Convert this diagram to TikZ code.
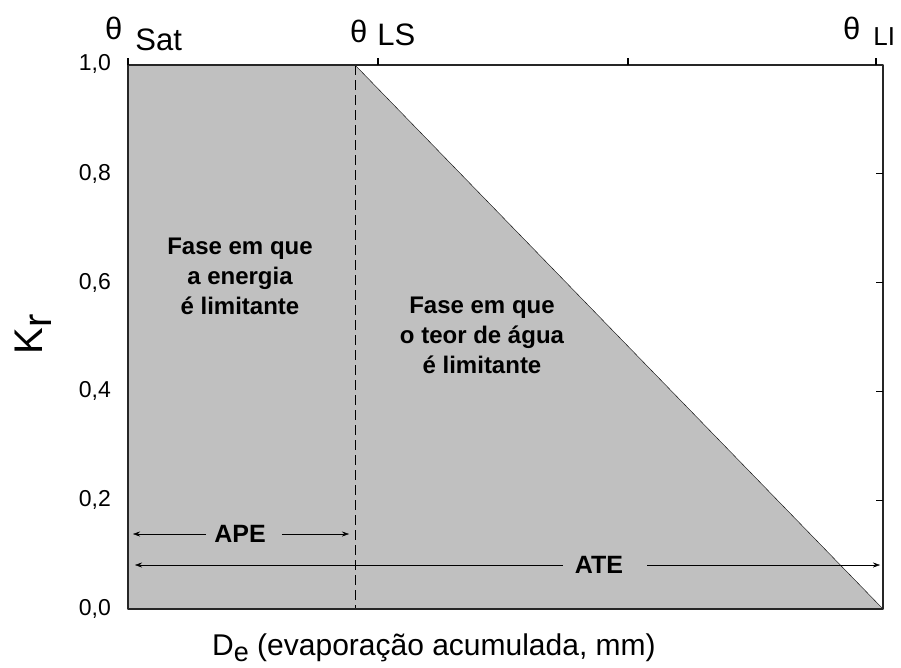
\documentclass[tikz,border=0pt]{standalone}
\usepackage{fontspec}
\setmainfont{Liberation Sans}
\usetikzlibrary{arrows.meta}
\definecolor{faseg}{RGB}{192,192,192}
\begin{document}
\begin{tikzpicture}[x=1pt,y=-1pt, line join=round, >={Stealth[length=7pt,width=5pt]},
	ticklab/.style={font=\fontsize{23}{23}\selectfont, anchor=east, inner sep=0pt},
	thlab/.style={font=\fontsize{31}{31}\selectfont, anchor=base west, inner sep=0pt},
	fase/.style={font=\fontsize{24}{30}\selectfont\bfseries, align=center, anchor=north, inner sep=0pt},
	dimlab/.style={font=\fontsize{25}{25}\selectfont\bfseries, inner sep=8pt}]
	\useasboundingbox (0,0) rectangle (901,667);
	\fill[faseg] (128,65) -- (355,65) -- (883,609) -- (128,609) -- cycle;
	\draw (355,65) -- (883,609);
	\draw[dash pattern=on 10pt off 5pt] (355,65) -- (355,609);
	\draw[line width=1.6pt, black!85] (128,65) rectangle (883,609);
	\foreach \x in {128,378,628,876}{
		\draw[line width=1.2pt] (\x,65) -- (\x,58);}
	\foreach \y/\t in {609/{0,0},500.2/{0,2},391.4/{0,4},282.6/{0,6},173.8/{0,8},64/{1,0}}{
		\node[ticklab] at (111,\y) {\t};}
	\foreach \y in {500.2,391.4,282.6,173.8}{
		\draw[line width=1.2pt] (883,\y) -- (876,\y);}
	% theta labels
	\node[thlab] (thsat) at (105,39) {θ\hspace{13pt}\raisebox{-11pt}{Sat}};
	\node[thlab] (thls) at (350,42) {θ\hspace{10pt}\raisebox{-3pt}{LS}};
	\node[thlab] (thli) at (843,39) {θ\hspace{13pt}\raisebox{-6pt}{\fontsize{26}{26}\selectfont LI}};
	% axis titles
	\node[rotate=90, font=\fontsize{40}{40}\selectfont, inner sep=0pt] (kr) at (33,334) {K\raisebox{-9pt}{r}};
	\node[anchor=base west, font=\fontsize{30}{30}\selectfont, inner sep=0pt] (delab) at (212,655)
		{D\raisebox{-6pt}{\fontsize{27}{27}\selectfont e} (evaporação acumulada, mm)};
	% phases
	\node[fase] (fase1) at (240,238) {Fase em que\\a energia\\é limitante};
	\node[fase] (fase2) at (482,297) {Fase em que\\o teor de água\\é limitante};
	\node[dimlab] (ape) at (240,534) {APE};
	\coordinate (apeL) at (133,534);
	\coordinate (apeR) at (349,534);
	\draw[->] (ape) -- (apeL);
	\draw[->, shorten <=8pt] (ape) -- (apeR);
	\node[dimlab] (ate) at (599,565) {ATE};
	\coordinate (ateL) at (135,565);
	\coordinate (ateR) at (880,565);
	\draw[->, shorten <=4pt] (ate) -- (ateL);
	\draw[->, shorten <=16pt] (ate) -- (ateR);
\end{tikzpicture}
\end{document}
